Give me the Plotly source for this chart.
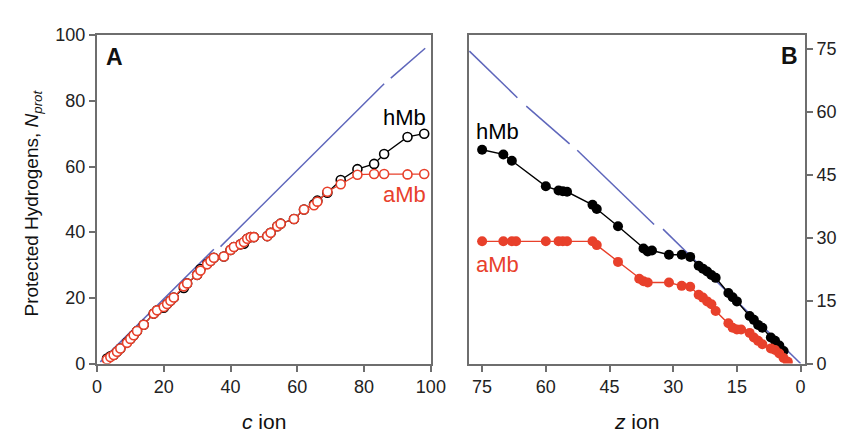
import plotly.graph_objects as go

# ---------------- data ----------------
# Panel A (c ions)
c_ion = [3, 4, 5, 6, 7, 9, 10, 11, 12, 14, 17, 18, 20, 21, 22, 23, 26, 27, 30, 31,
         33, 34, 35, 38, 40, 41, 43, 44, 45, 46, 47, 51, 52, 54, 55, 59, 62, 65, 66, 69,
         73, 78, 83, 86, 93, 98]
amb_c = [1.2, 2, 2.6, 3.6, 4.6, 6.3, 7.5, 8.6, 9.9, 11.8, 15.2, 16.2, 17.2, 18.1, 19.1, 20.1,
         23.5, 24.4, 27, 28.3, 30.2, 31.2, 32.2, 32.6, 34.6, 35.5, 36.3, 37, 38, 38.5, 38.5,
         38.8, 39.8, 41.8, 42.6, 44, 46.9, 48.2, 49.3, 52.3, 54.6, 57.5, 57.7, 57.7, 57.6, 57.7]
hmb_c = [1.5, 2.2, 2.6, 3.6, 4.6, 6.5, 7.5, 8.6, 9.9, 11.8, 15.2, 16.2, 17.0, 18.1, 19.1, 20.1,
         23.0, 24.4, 27, 28.8, 30.4, 31.2, 32.2, 32.6, 34.6, 35.5, 36.3, 36.5, 38, 38.5, 38.5,
         38.8, 39.8, 41.8, 42.6, 44, 46.9, 48.5, 49.6, 52.0, 55.9, 59.2, 60.8, 63.8, 69.0, 70.0]
maxprot_c_x = [1, 35, None, 37, 86, None, 88, 98.3]
maxprot_c_y = [0.5, 34.8, None, 35.6, 85.2, None, 86.9, 96.0]

# Panel B (z ions)
z_ion_h = [75, 70, 68, 60, 57, 56, 55, 49, 48, 43, 37, 36, 35, 31, 28, 26, 24, 23, 22, 21,
           20, 17, 16, 15, 12, 11, 10, 9, 7, 6, 5, 4]
hmb_z = [50.9, 49.8, 48.3, 42.2, 41.2, 41.05, 40.9, 37.8, 36.8, 32.7, 27.4, 26.7, 26.9, 25.9,
         25.9, 25.4, 23.3, 22.6, 21.9, 21.1, 20.4, 16.8, 15.8, 14.8, 11.3, 10.4, 9.2, 8.5,
         6.2, 5.4, 4.3, 3.0]
z_ion_a = [75, 70, 68, 67, 60, 57, 56, 55, 49, 48, 43, 38, 37, 36, 31, 28, 26, 24, 23, 22,
           21, 20, 17, 16, 15, 14, 12, 11, 10, 9, 7, 6, 5, 4, 3]
amb_z = [29.1, 29.1, 29.1, 29.1, 29.1, 29.1, 29.1, 29.1, 29.1, 28.2, 24.2, 20.2, 19.6, 19.3,
         19.3, 18.5, 18.3, 16.4, 15.7, 14.8, 14.1, 12.5, 9.6, 8.5, 8.1, 8.1, 7.3, 6.2, 5.4,
         4.6, 3.6, 3.2, 2.4, 1.3, 0.4]
maxprot_z_x = [78, 66.7, None, 64.6, 54.4, None, 52.6, 34.5, None, 32.4, 0]
maxprot_z_y = [74.4, 63.3, None, 61.3, 52.3, None, 50.8, 33.1, None, 32.0, 0]

ticks_a_x = [0, 20, 40, 60, 80, 100]
ticks_a_y = [0, 20, 40, 60, 80, 100]
ticks_b_x = [75, 60, 45, 30, 15, 0]
ticks_b_y = [0, 15, 30, 45, 60, 75]

# ---------------- style ----------------
W, H = 846, 432
RED = "#e8402b"
BLACK = "#000000"
BLUE = "#5e66bb"
AXC = "#6e6e6e"
FONT = "Liberation Sans, Arial, sans-serif"

def fx(px):
    return px / W

def fy(py):
    return 1 - py / H

fig = go.Figure()

# Panel A
fig.add_trace(go.Scatter(x=maxprot_c_x, y=maxprot_c_y, mode="lines",
                         line=dict(color=BLUE, width=1.5), xaxis="x", yaxis="y",
                         showlegend=False, connectgaps=False))
fig.add_trace(go.Scatter(x=c_ion, y=hmb_c, mode="lines+markers",
                         line=dict(color=BLACK, width=1.3),
                         marker=dict(symbol="circle", size=9, color="white",
                                     line=dict(color=BLACK, width=1.6)),
                         xaxis="x", yaxis="y", showlegend=False))
fig.add_trace(go.Scatter(x=c_ion, y=amb_c, mode="lines+markers",
                         line=dict(color=RED, width=1.3),
                         marker=dict(symbol="circle", size=9, color="white",
                                     line=dict(color=RED, width=1.6)),
                         xaxis="x", yaxis="y", showlegend=False))

# Panel B
fig.add_trace(go.Scatter(x=maxprot_z_x, y=maxprot_z_y, mode="lines",
                         line=dict(color=BLUE, width=1.5), xaxis="x2", yaxis="y2",
                         showlegend=False, connectgaps=False))
fig.add_trace(go.Scatter(x=z_ion_h, y=hmb_z, mode="lines+markers",
                         line=dict(color=BLACK, width=1.4),
                         marker=dict(symbol="circle", size=10, color=BLACK),
                         xaxis="x2", yaxis="y2", showlegend=False))
fig.add_trace(go.Scatter(x=z_ion_a, y=amb_z, mode="lines+markers",
                         line=dict(color=RED, width=1.4),
                         marker=dict(symbol="circle", size=10, color=RED),
                         xaxis="x2", yaxis="y2", showlegend=False))

ax_common = dict(showgrid=False, zeroline=False, showline=True, linecolor=AXC,
                 linewidth=2, mirror=True, ticks="outside", ticklen=6, tickwidth=1.5,
                 tickcolor=AXC, tickfont=dict(family=FONT, size=18, color="#222"))

ydom = [fy(362.3), fy(18)]

fig.update_layout(
    width=W, height=H,
    margin=dict(l=0, r=0, t=0, b=0),
    paper_bgcolor="white", plot_bgcolor="white",
    xaxis=dict(domain=[fx(86), fx(428)], range=[0, 100], tickvals=ticks_a_x,
               anchor="y", **ax_common),
    yaxis=dict(domain=ydom, range=[0, 100], tickvals=ticks_a_y, anchor="x",
               **ax_common),
    xaxis2=dict(domain=[fx(467), fx(811)], range=[78.1, -1.0], tickvals=ticks_b_x,
                anchor="y2", **ax_common),
    yaxis2=dict(domain=ydom, range=[0, 78.2], tickvals=ticks_b_y, anchor="x2",
                side="right", **ax_common),
)

ann = []
def text(x, y, s, size=20, color="#111", angle=0, xanchor="center",
         yanchor="middle"):
    ann.append(dict(x=fx(x), y=fy(y), xref="paper", yref="paper", text=s,
                    showarrow=False, textangle=angle, xanchor=xanchor,
                    yanchor=yanchor,
                    font=dict(family=FONT, size=size, color=color)))

text(104, 41, "<b>A</b>", size=23)
text(795, 40, "<b>B</b>", size=23)
text(401, 104, "hMb", size=22, color=BLACK)
text(401, 185, "aMb", size=22, color=RED)
text(496, 119, "hMb", size=22, color=BLACK)
text(496, 258, "aMb", size=22, color=RED)
text(257, 423, "<i>c</i> ion", size=21)
text(639, 423, "<i>z</i> ion", size=21)
text(21, 194, "Protected Hydrogens, <i>N</i><sub><i>prot</i></sub>", size=19, angle=-90)

fig.update_layout(annotations=ann)

fig.write_html("out.html")
